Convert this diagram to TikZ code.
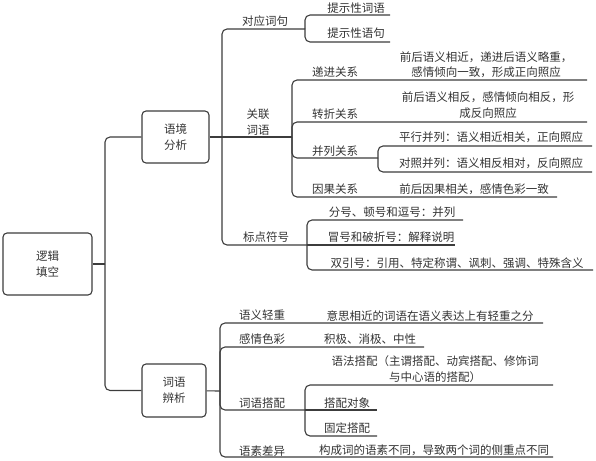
\documentclass[tikz,border=0pt]{standalone}
\usepackage{fontspec}
\setmainfont{Noto Sans CJK SC}
\usetikzlibrary{positioning}
\definecolor{ln}{HTML}{3C3C3C}
\definecolor{txt}{HTML}{333333}

\begin{document}
\begin{tikzpicture}[x=1pt,y=-1pt,line width=1.1pt,rounded corners=5pt,
  every node/.style={text=txt,font=\fontsize{11.5}{15.5}\selectfont,inner sep=0pt,align=center},
  box/.style={draw=ln,rounded corners=4pt},
  every path/.style={draw=ln}]
  \useasboundingbox[draw=none] (0,0) rectangle (596,460);
  \node[box,minimum width=89pt,minimum height=62pt] (A) at (47.5,264) {逻辑\\填空};
  \node[box,minimum width=67pt,minimum height=52pt] (B) at (175.5,137) {语境\\分析};
  \node[box,minimum width=64pt,minimum height=53pt] (C) at (174,390.5) {词语\\辨析};
  \coordinate (a) at (105,264);
  \coordinate (b) at (222,137);
  \coordinate (c) at (220,391);
  \draw (A) -- (a);
  \draw (a) |- (B);
  \draw (a) |- (C);
  \draw (B) -- (b);
  \draw (C) -- (c);

  \node (B1) at (265,21) {对应词句};
  \node (B2) at (258,122) {关联\\词语};
  \node (B3) at (266,237) {标点符号};
  \coordinate (B1e) at (305,29);
  \coordinate (B2e) at (292,137);
  \coordinate (B3e) at (307,245);
  \draw (b) |- (B1e);
  \draw (b) -- (B2e);
  \draw (b) |- (B3e);

  \node (B11) at (356,8) {提示性词语};
  \node (B12) at (356,33) {提示性语句};
  \coordinate (B11e) at (390,15);
  \coordinate (B12e) at (390,42);
  \draw (B1e) |- (B11e);
  \draw (B1e) |- (B12e);

  \node (B21) at (335,72) {递进关系};
  \node (B22) at (335,114) {转折关系};
  \node (B23) at (335,151) {并列关系};
  \node (B24) at (335,189) {因果关系};
  \node (B21d) at (486,65) {前后语义相近，递进后语义略重，\\感情倾向一致，形成正向照应};
  \node (B22d) at (488,105) {前后语义相反，感情倾向相反，形\\成反向照应};
  \node (B24d) at (474,189) {前后因果相关，感情色彩一致};
  \coordinate (B21e) at (587,80);
  \coordinate (B22e) at (587,122);
  \coordinate (B23e) at (378,158);
  \coordinate (B24e) at (557,197);
  \draw (B2e) |- (B21e);
  \draw (B2e) |- (B22e);
  \draw (B2e) |- (B23e);
  \draw (B2e) |- (B24e);

  \node (B231) at (491,137) {平行并列：语义相近相关，正向照应};
  \node (B232) at (491,163) {对照并列：语义相反相对，反向照应};
  \coordinate (B231e) at (592,146);
  \coordinate (B232e) at (592,172);
  \draw (B23e) |- (B231e);
  \draw (B23e) |- (B232e);

  \node (B31) at (392,212) {分号、顿号和逗号：并列};
  \node (B32) at (391,237) {冒号和破折号：解释说明};
  \node (B33) at (457,263) {双引号：引用、特定称谓、讽刺、强调、特殊含义};
  \coordinate (B31e) at (463,220);
  \coordinate (B32e) at (455,245);
  \coordinate (B33e) at (593,270);
  \draw (B3e) |- (B31e);
  \draw (B3e) -- (B32e);
  \draw (B3e) |- (B33e);

  \node (C1) at (262,315) {语义轻重};
  \node (C2) at (262,339) {感情色彩};
  \node (C3) at (262,403) {词语搭配};
  \node (C4) at (262,451) {语素差异};
  \node (C1d) at (430,316) {意思相近的词语在语义表达上有轻重之分};
  \node (C2d) at (370,339) {积极、消极、中性};
  \node (C4d) at (434,450) {构成词的语素不同，导致两个词的侧重点不同};
  \coordinate (C1e) at (543,323);
  \coordinate (C2e) at (424,347);
  \coordinate (C3e) at (305,410);
  \coordinate (C4e) at (553,457);
  \draw (c) |- (C1e);
  \draw (c) |- (C2e);
  \draw (c) |- (C3e);
  \draw (c) |- (C4e);

  \node (C31) at (435,369) {语法搭配（主谓搭配、动宾搭配、修饰词\\与中心语的搭配）};
  \node (C32) at (347,403) {搭配对象};
  \node (C33) at (347,428) {固定搭配};
  \coordinate (C31e) at (553,385);
  \coordinate (C32e) at (377,410);
  \coordinate (C33e) at (377,436);
  \draw (C3e) |- (C31e);
  \draw (C3e) -- (C32e);
  \draw (C3e) |- (C33e);
\end{tikzpicture}
\end{document}
